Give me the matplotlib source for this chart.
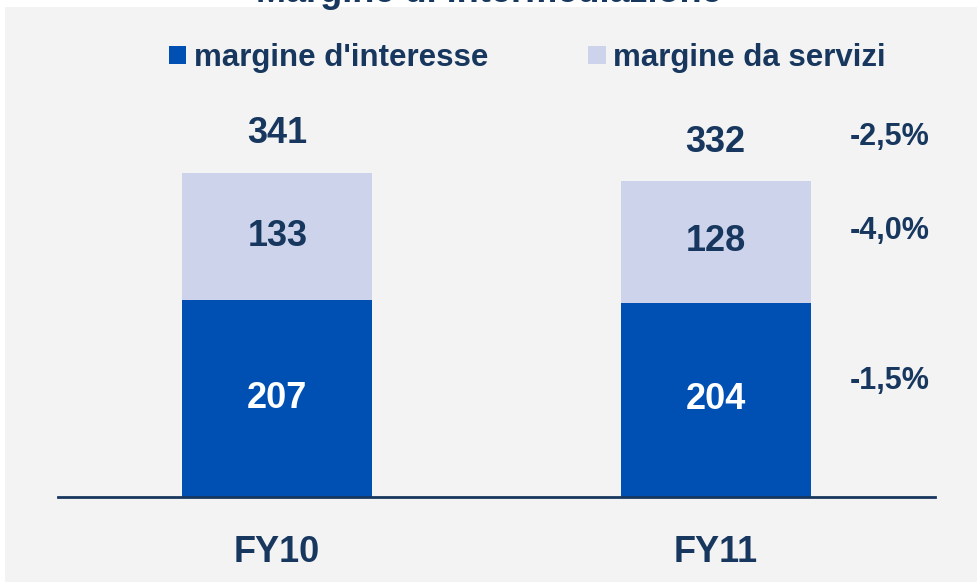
import matplotlib.pyplot as plt
from matplotlib.patches import Rectangle

categories = ['FY10', 'FY11']
interesse = [207, 204]
servizi = [133, 128]
totali = [341, 332]
variazioni = ['-2,5%', '-4,0%', '-1,5%']

blu = '#0050b4'
azzurro = '#cdd3ea'
testo = '#17375e'

plt.rcParams['font.family'] = ['Liberation Sans', 'DejaVu Sans']
plt.rcParams['font.weight'] = 'bold'

fig = plt.figure(figsize=(9.77, 5.82), dpi=100)
fig.patch.set_facecolor('white')
# pannello grigio di sfondo
fig.patches.append(Rectangle((5 / 977, 0), 1, 1 - 7 / 582, transform=fig.transFigure,
                             facecolor='#f3f3f3', edgecolor='none', zorder=-5))
# titolo tagliato in alto
fig.text(0.5, 1 - 2 / 582, 'Margine di intermediazione', ha='center', va='baseline',
         fontsize=26, color=testo, fontweight='bold', zorder=-4)

ax = fig.add_axes([58 / 977, 85 / 582, 877 / 977, 417 / 582])
ax.set_facecolor('none')
x = [0, 1]
w = 0.433
ax.bar(x, interesse, width=w, color=blu, label="margine d'interesse")
ax.bar(x, servizi, width=w, bottom=interesse, color=azzurro, label='margine da servizi')
ax.set_xlim(-0.5, 1.5)
ax.set_ylim(0, 438)

for xi, a, b, t in zip(x, interesse, servizi, totali):
    ax.text(xi, a / 2, str(a), ha='center', va='center', color='white', fontsize=26)
    ax.text(xi, a + b / 2, str(b), ha='center', va='center', color=testo, fontsize=26)
    ax.text(xi, t + 22, str(t), ha='center', va='bottom', color=testo, fontsize=26)

for yv, s in zip([378, 279, 122], variazioni):
    ax.text(1.397, yv, s, ha='center', va='center', color=testo, fontsize=22)

ax.set_xticks(x)
ax.set_xticklabels(categories, fontsize=26, color=testo)
ax.tick_params(axis='x', length=0, pad=27)
ax.set_yticks([])
for s in ['top', 'right', 'left']:
    ax.spines[s].set_visible(False)
ax.spines['bottom'].set_color(testo)
ax.spines['bottom'].set_linewidth(2)

fig.legend(loc='center', bbox_to_anchor=(0.54, 1 - 58 / 582), ncol=2, frameon=False,
           fontsize=22.5, handlelength=0.55, handleheight=0.55, handletextpad=0.25,
           columnspacing=3.2, labelcolor=testo)

fig.savefig('out.png', dpi=100)
